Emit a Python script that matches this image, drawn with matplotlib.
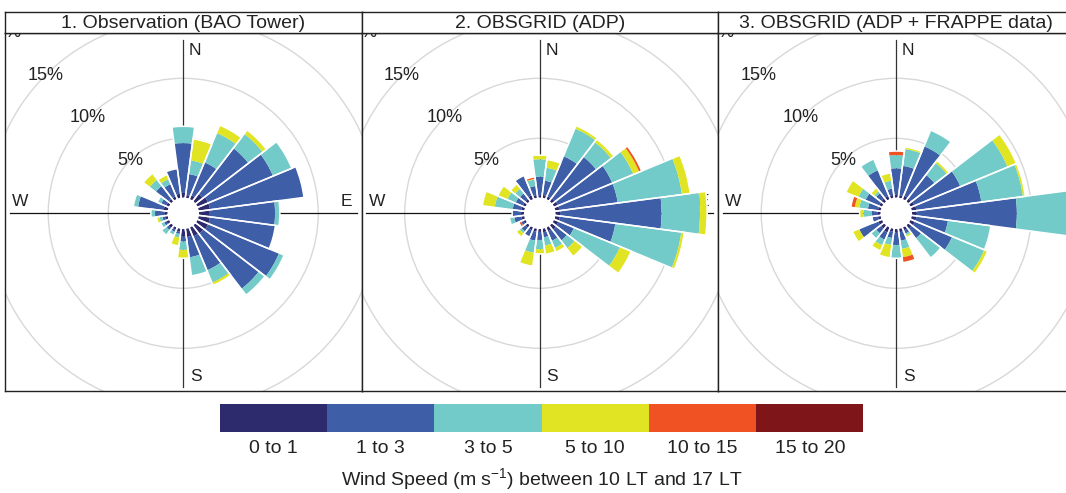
import numpy as np
import matplotlib.pyplot as plt
from matplotlib.patches import Wedge, Circle

plt.rcParams['font.family'] = ['Liberation Sans', 'DejaVu Sans']
plt.rcParams['mathtext.fontset'] = 'custom'
plt.rcParams['mathtext.rm'] = 'Liberation Sans'

# 15-degree sectors, compass bearing of each sector centre
directions = np.arange(0, 360, 15)
speed_labels = ["0 to 1", "1 to 3", "3 to 5", "5 to 10", "10 to 15", "15 to 20"]
speed_colours = ["#2D2A6E", "#3E5EA8", "#72CBC8", "#E0E422", "#F05224", "#7E1519"]
panel_titles = ["1. Observation (BAO Tower)", "2. OBSGRID (ADP)",
                "3. OBSGRID (ADP + FRAPPE data)"]

# frequency (%) of each speed bin per sector
bao_0_1 = [.45, .3, .4, .8, 1.0, 1.0, .9, 1.0, 1.0, .9, .85, .75,
           .7, .3, .25, .35, .3, .3, .3, .4, .3, .3, .3, .4]
bao_1_3 = [4.15, 1.75, 2.95, 4.8, 5.85, 7.9, 5.5, 5.5, 6.4, 5.8, 3.05, 1.7,
           .4, .2, .2, .2, .2, .2, .8, 2.15, .45, 1.35, 1.1, 2.1]
bao_3_5 = [1.4, 1.15, 2.65, 1.5, 1.7, 0, .4, 0, .45, .65, 1.1, 1.55,
           .7, .3, .3, .5, .3, .25, .35, .4, .35, .65, .45, 0]
bao_5_10 = [0, 1.8, .7, .4, 0, 0, 0, 0, 0, 0, .25, 0,
            .7, .7, 0, 0, 0, .25, 0, 0, 0, .65, .4, 0]
bao_10_15 = [0] * 24

adp_0_1 = [.25, .3, .3, .35, .4, .4, .45, .45, .45, .5, .4, .35,
           .3, .3, .3, .3, .25, .3, .3, .3, .3, .3, .4, .3]
adp_1_3 = [1.55, 1.2, 3.6, 4.35, 4.9, 4.9, 8.45, 4.65, 1.4, 1.14, .85, .43,
           .67, .76, .6, .4, .2, .6, .75, .73, .64, .58, 1.76, .75]
adp_3_5 = [1.45, 1.08, 2.5, 1.55, 1.9, 5.4, 3.2, 5.55, 4.15, .81, .65, .69,
           .78, 1.01, 0, .2, 0, .4, 0, 1.5, .74, .49, 0, .55]
adp_5_10 = [.35, .69, .25, .3, .53, .7, .6, .25, 1.0, .85, .35, .73,
            .39, 1.13, 0, .35, 0, 0, 0, 1.05, .86, .48, 0, .05]
adp_10_15 = [0, 0, 0, 0, .22, 0, 0, 0, 0, 0, 0, 0,
             0, 0, 0, 0, .2, 0, 0, 0, 0, 0, 0, .17]

frappe_0_1 = [.3, .3, .35, .35, .4, .45, .45, .45, .45, .4, .3, .35,
              .35, .3, .5, .4, .4, .3, .3, .3, .3, .35, .35, .3]
frappe_1_3 = [2.2, 2.44, 4.45, 2.45, 4.14, 5.45, 8.35, 2.65, 3.35, 1.0, .3, .71,
              1.04, .53, .65, .5, 1.7, .5, .48, .84, 1.23, .55, 2.3, .53]
frappe_3_5 = [1.1, 1.41, 1.45, 1.28, 4.26, 3.5, 5.0, 3.6, 2.9, 2.05, .15, .69,
              1.11, .59, .5, .55, 0, 0, .69, .72, .65, .2, 1.0, .67]
frappe_5_10 = [0, .17, 0, .22, .8, .2, 0, 0, .3, 0, .2, .7,
               0, 1.08, .5, 0, .6, 0, .33, .38, 1.12, .35, 0, .65]
frappe_10_15 = [.34, 0, 0, 0, 0, 0, 0, 0, 0, 0, 0, .45,
                0, 0, 0, 0, 0, 0, 0, .33, 0, 0, 0, 0]

panel_bins = [
    [bao_0_1, bao_1_3, bao_3_5, bao_5_10, bao_10_15],
    [adp_0_1, adp_1_3, adp_3_5, adp_5_10, adp_10_15],
    [frappe_0_1, frappe_1_3, frappe_3_5, frappe_5_10, frappe_10_15],
]

HOLE = 1.25          # radius of the empty centre, in % units
HALF = 7.5           # half sector width, degrees
PX = 12.0            # pixels per % unit

W, H = 1066, 493
fig = plt.figure(figsize=(W / 100, H / 100), dpi=100)


def frac(x0, y_top, w, h):
    return [x0 / W, (H - y_top - h) / H, w / W, h / H]


def draw_rose(ax, bins):
    for pct in (5, 10, 15, 20):
        r = HOLE + pct
        ax.add_patch(Circle((0, 0), r, fill=False, edgecolor="#D8D8D8",
                            lw=1.0, zorder=1))
        ax.text(-r / np.sqrt(2), r / np.sqrt(2), f"{pct}%", fontsize=13,
                ha="center", va="center", color="#222222", zorder=2,
                clip_on=True)
    L = 173.3 / PX
    ax.plot([0, 0], [-L, L], color="#333333", lw=0.9, zorder=2)
    ax.plot([-L, L], [0, 0], color="#111111", lw=0.9, zorder=2)
    for lab, (x, y) in zip("NESW", [(0.97, 13.58), (13.6, 1.0),
                                     (1.05, -13.58), (-13.58, 1.0)]):
        ax.text(x, y, lab, fontsize=12.5, ha="center", va="center",
                color="#222222", zorder=2)
    ax.add_patch(Circle((0, 0), HOLE, facecolor="white", edgecolor="none",
                        zorder=2.5))

    base = np.full(len(directions), HOLE)
    for freq, col in zip(bins, speed_colours):
        freq = np.asarray(freq, dtype=float)
        for d, b, f in zip(directions, base, freq):
            if f > 0:
                ax.add_patch(Wedge((0, 0), b + f, 90 - d - HALF, 90 - d + HALF,
                                   width=f, facecolor=col, edgecolor="none",
                                   zorder=3))
        base = base + freq
    # thin white separation between sectors
    for d, top in zip(directions, base):
        ax.add_patch(Wedge((0, 0), top, 90 - d - HALF, 90 - d + HALF,
                           width=top - HOLE, fill=False, edgecolor="white",
                           lw=1.1, zorder=4))


pw, ph = 356.5, 357.4
for i, (title, bins) in enumerate(zip(panel_titles, panel_bins)):
    x0 = 5 + i * pw
    ax = fig.add_axes(frac(x0, 33.3, pw, ph))
    ax.set_xlim(-pw / 2 / PX, pw / 2 / PX)
    ax.set_ylim(-177.4 / PX, 180.0 / PX)
    ax.set_xticks([])
    ax.set_yticks([])
    for s in ax.spines.values():
        s.set_linewidth(1.0)
        s.set_color("#222222")
    draw_rose(ax, bins)

    sax = fig.add_axes(frac(x0, 12.3, pw, 21.0))
    sax.set_xticks([])
    sax.set_yticks([])
    for s in sax.spines.values():
        s.set_linewidth(1.0)
        s.set_color("#222222")
    sax.text(0.5, 0.45, title, transform=sax.transAxes, ha="center",
             va="center", fontsize=14, color="#222222")

# speed key
cax = fig.add_axes(frac(219.6, 404.3, 643.9, 27.4))
cax.bar(np.arange(len(speed_labels)), 1, width=1.0, color=speed_colours)
cax.set_xlim(-0.5, len(speed_labels) - 0.5)
cax.set_ylim(0, 1)
cax.set_yticks([])
cax.set_xticks(np.arange(len(speed_labels)))
cax.set_xticklabels(speed_labels, fontsize=14, color="#222222")
cax.tick_params(axis="x", length=0, pad=6)
for s in cax.spines.values():
    s.set_visible(False)
fig.text(541.5 / W, 1 - 480 / H,
         "Wind Speed (m s$^{-1}$) between 10 LT and 17 LT",
         ha="center", va="center", fontsize=14, color="#222222")

fig.savefig("out.png", dpi=100)
